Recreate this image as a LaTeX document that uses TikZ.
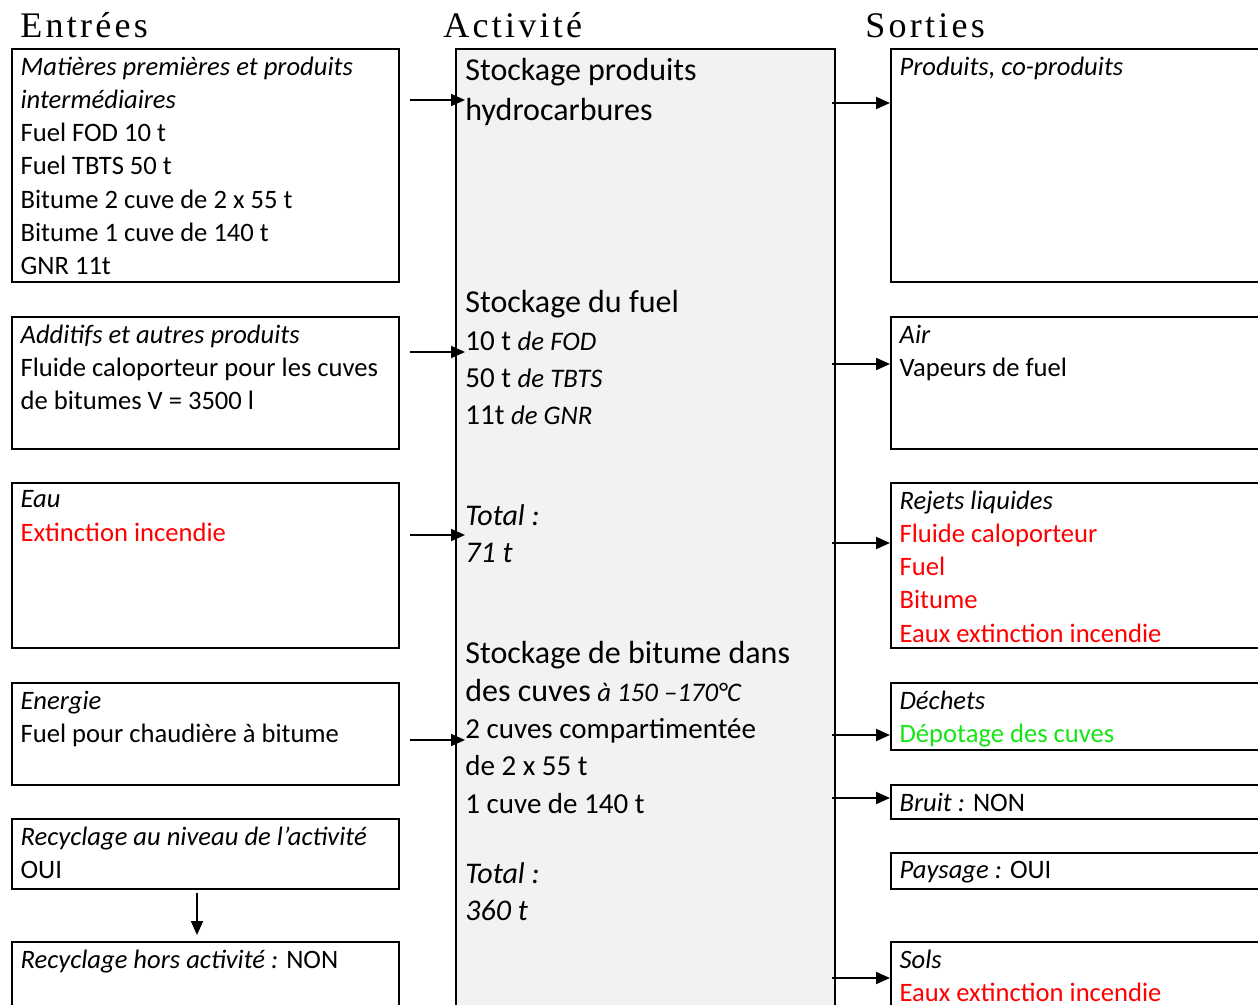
\documentclass[tikz,border=0pt]{standalone}
\usepackage{fontspec}
\setmainfont{Carlito}
\newfontfamily\headfont[LetterSpace=9]{Liberation Serif}
\usetikzlibrary{arrows.meta}

\definecolor{boxgray}{HTML}{F2F2F2}
\definecolor{okgreen}{RGB}{20,230,20}

\begin{document}
\begin{tikzpicture}[x=0.5pt,y=-0.5pt,
  box/.style={draw,line width=1pt,inner sep=0pt,anchor=north west},
  side/.style={box,minimum width=193.5pt},
  outbox/.style={box,minimum width=200pt},
  txt/.style={anchor=north west,align=left,inner xsep=4.6pt,inner ysep=4.2pt,
    font=\fontsize{13.3}{16.6}\selectfont},
  big/.style={anchor=north west,align=left,inner xsep=5pt,inner ysep=0pt,
    font=\fontsize{14.5}{18.7}\selectfont},
  flow/.style={line width=1pt,-{Triangle[length=7pt,width=6pt]}},
  head/.style={anchor=base west,inner sep=0pt,font=\headfont\fontsize{18}{20}\selectfont}]
  \clip (0,0) rectangle (1258,1005);

  % Column titles
  \node[head] (hin) at (20,38) {Entrées};
  \node[head] (hact) at (443,38) {Activité};
  \node[head] (hout) at (865,38) {Sorties};

  % Activity box
  \node[box,fill=boxgray,minimum width=189.5pt,minimum height=526pt] (act) at (455,48) {};
  \node[big,font=\fontsize{16}{20}\selectfont] (act1) at (455,58) {Stockage produits\\hydrocarbures};
  \node[big] (act2) at (455,290) {{\fontsize{16}{18.7}\selectfont Stockage du fuel}\\
    10 t {\fontsize{13.4}{18.7}\selectfont\itshape de FOD}\\
    50 t {\fontsize{13.4}{18.7}\selectfont\itshape de TBTS}\\
    11t {\fontsize{13.4}{18.7}\selectfont\itshape de GNR}};
  \node[big,font=\fontsize{15}{18.7}\selectfont] (act3) at (455,504) {\textit{Total :}\\\textit{71 t}};
  \node[big] (act4) at (455,641) {{\fontsize{16}{18.7}\selectfont Stockage de bitume dans}\\
    {\fontsize{16}{18.7}\selectfont des cuves} {\fontsize{13.4}{18.7}\selectfont\itshape à 150 –170°C}\\
    2 cuves compartimentée\\de 2 x 55 t\\1 cuve de 140 t};
  \node[big,font=\fontsize{15}{18.7}\selectfont] (act5) at (455,862) {\textit{Total :}\\\textit{360 t}};

  % Inputs
  \node[side,minimum height=116.5pt] (in1) at (11,48) {};
  \node[txt] (in1t) at (in1.north west) {\textit{Matières premières et produits}\\
    \textit{intermédiaires}\\Fuel FOD 10 t\\Fuel TBTS 50 t\\
    Bitume 2 cuve de 2 x 55 t\\Bitume 1 cuve de 140 t\\GNR 11t};
  \node[side,minimum height=66pt] (in2) at (11,316) {};
  \node[txt] (in2t) at (in2.north west) {\textit{Additifs et autres produits}\\
    Fluide caloporteur pour les cuves\\de bitumes V = 3500 l};
  \node[side,minimum height=82.5pt] (in3) at (11,482) {};
  \node[txt] (in3t) at (in3.north west) {\textit{Eau}\\\textcolor{red}{Extinction incendie}};
  \node[side,minimum height=51pt] (in4) at (11,682) {};
  \node[txt] (in4t) at (in4.north west) {\textit{Energie}\\Fuel pour chaudière à bitume};
  \node[side,minimum height=35pt] (rec1) at (11,818) {};
  \node[txt] (rec1t) at (rec1.north west) {\textit{Recyclage au niveau de l’activité}\\OUI};
  \node[side,minimum height=50pt] (rec2) at (11,941) {};
  \node[txt] (rec2t) at (rec2.north west) {\textit{Recyclage hors activité :} NON};

  % Outputs
  \node[outbox,minimum height=116.5pt] (out1) at (890,48) {};
  \node[txt] (out1t) at (out1.north west) {\textit{Produits, co-produits}};
  \node[outbox,minimum height=66pt] (out2) at (890,316) {};
  \node[txt] (out2t) at (out2.north west) {\textit{Air}\\Vapeurs de fuel};
  \node[outbox,minimum height=82.5pt] (out3) at (890,482) {};
  \node[txt] (out3t) at (out3.north west) {\textit{Rejets liquides}\\
    \textcolor{red}{Fluide caloporteur}\\\textcolor{red}{Fuel}\\
    \textcolor{red}{Bitume}\\\textcolor{red}{Eaux extinction incendie}};
  \node[outbox,minimum height=33.5pt] (out4) at (890,682) {};
  \node[txt] (out4t) at (out4.north west) {\textit{Déchets}\\\textcolor{okgreen}{Dépotage des cuves}};
  \node[outbox,minimum height=17pt] (out5) at (890,784) {};
  \node[txt] (out5t) at (out5.north west) {\textit{Bruit :} NON};
  \node[outbox,minimum height=18pt] (out6) at (890,852) {};
  \node[txt] (out6t) at (out6.north west) {\textit{Paysage :} OUI};
  \node[outbox,minimum height=50pt] (out7) at (890,941) {};
  \node[txt] (out7t) at (out7.north west) {\textit{Sols}\\\textcolor{red}{Eaux extinction incendie}};

  % Arrows into the activity
  \foreach \n/\y in {in1/100,in2/352,in3/535,in4/740}
    \draw[flow] ([xshift=5pt]\n.east |- 0,\y) -- ([xshift=5pt]act.west |- 0,\y);

  % Arrows out of the activity
  \foreach \n/\y in {out1/103,out2/364,out3/543,out4/735,out5/798,out7/978}
    \draw[flow] ([xshift=-2pt]act.east |- 0,\y) -- (\n.west |- 0,\y);

  % Recycling
  \draw[flow] ([yshift=-1.5pt]rec1.south -| 197,0) -- ([yshift=3pt]rec2.north -| 197,0);
\end{tikzpicture}
\end{document}
